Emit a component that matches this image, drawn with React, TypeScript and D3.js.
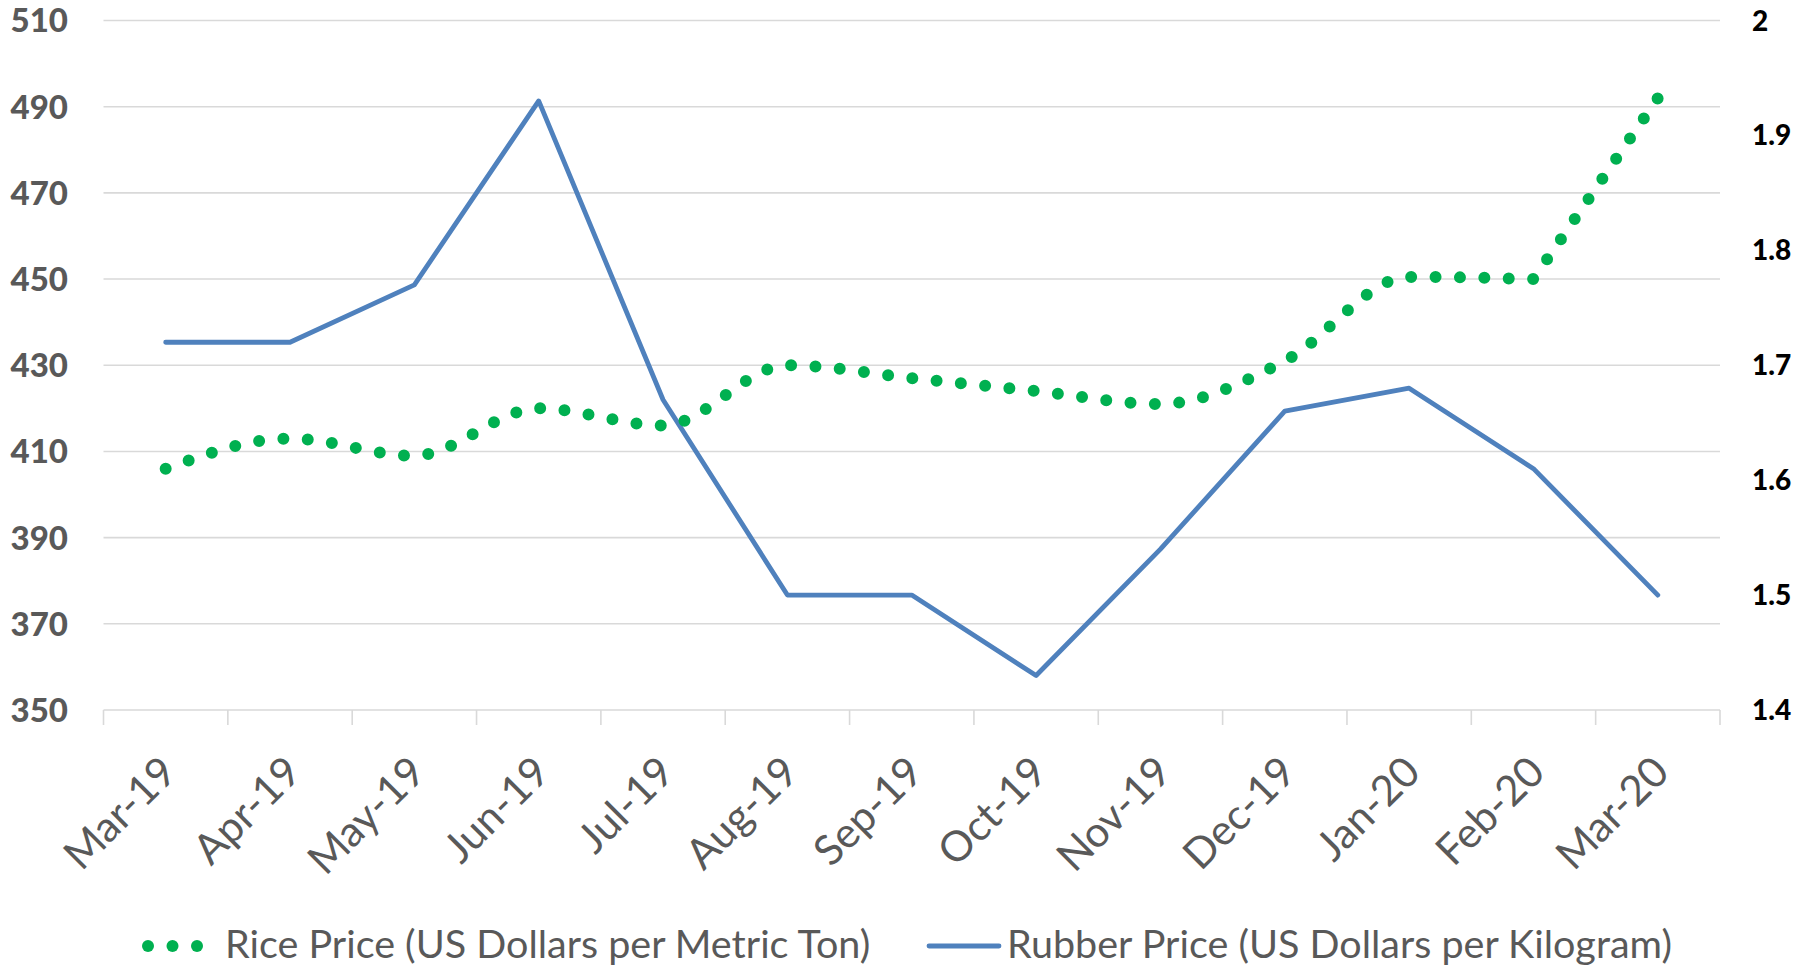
import React, { useRef, useEffect } from "react";
import * as d3 from "d3";

const months = ["Mar-19", "Apr-19", "May-19", "Jun-19", "Jul-19", "Aug-19", "Sep-19", "Oct-19", "Nov-19", "Dec-19", "Jan-20", "Feb-20", "Mar-20"];
const ricePrice = [406, 413, 409, 420, 416, 430, 427, 424, 421, 431, 450.5, 450, 492];
const rubberPrice = [1.72, 1.72, 1.77, 1.93, 1.67, 1.5, 1.5, 1.43, 1.54, 1.66, 1.68, 1.61, 1.5];
const leftTicks = [350, 370, 390, 410, 430, 450, 470, 490, 510];
const rightTicks = [1.4, 1.5, 1.6, 1.7, 1.8, 1.9, 2];
const riceLabel = "Rice Price (US Dollars per Metric Ton)";
const rubberLabel = "Rubber Price (US Dollars per Kilogram)";

const GREEN = "#00b050";
const BLUE = "#4f81bd";
const GREY = "#595959";
const FONT = "Lato, 'Open Sans', sans-serif";

const PriceChart = () => {
  const ref = useRef<SVGSVGElement>(null);

  useEffect(() => {
    const width = 1808;
    const height = 969;
    const margin = { top: 20.5, right: 88, bottom: 259, left: 103.5 };
    const innerW = width - margin.left - margin.right;
    const innerH = height - margin.top - margin.bottom;

    const root = d3.select(ref.current);
    root.selectAll("*").remove();
    const svg = root.append("g").attr("transform", `translate(${margin.left},${margin.top})`);

    const x = d3.scaleBand().domain(months).range([0, innerW]).padding(0);
    const yL = d3.scaleLinear().domain([350, 510]).range([innerH, 0]);
    const yR = d3.scaleLinear().domain([1.4, 2]).range([innerH, 0]);
    const cx = (m: string) => (x(m) ?? 0) + x.bandwidth() / 2;

    // gridlines
    svg
      .selectAll(".grid")
      .data(leftTicks)
      .enter()
      .append("line")
      .attr("x1", 0)
      .attr("x2", innerW)
      .attr("y1", (d) => yL(d))
      .attr("y2", (d) => yL(d))
      .attr("stroke", "#d9d9d9")
      .attr("stroke-width", 1.6);

    // category tick marks
    const edges = months.map((m) => x(m) ?? 0).concat([innerW]);
    svg
      .selectAll(".tick")
      .data(edges)
      .enter()
      .append("line")
      .attr("x1", (d) => d)
      .attr("x2", (d) => d)
      .attr("y1", innerH)
      .attr("y2", innerH + 15)
      .attr("stroke", "#d9d9d9")
      .attr("stroke-width", 1.6);

    // left axis labels
    svg
      .selectAll(".ly")
      .data(leftTicks)
      .enter()
      .append("text")
      .attr("x", 68 - margin.left)
      .attr("y", (d) => yL(d))
      .attr("dy", "0.36em")
      .attr("text-anchor", "end")
      .attr("font-family", FONT)
      .attr("font-weight", 900)
      .attr("font-size", 33)
      .attr("fill", GREY)
      .text((d) => d);

    // right axis labels
    svg
      .selectAll(".ry")
      .data(rightTicks)
      .enter()
      .append("text")
      .attr("x", 1752 - margin.left)
      .attr("y", (d) => yR(d))
      .attr("dy", "0.36em")
      .attr("text-anchor", "start")
      .attr("font-family", FONT)
      .attr("font-weight", 900)
      .attr("font-size", 28)
      .attr("fill", "#000")
      .text((d) => d3.format("~g")(d));

    // x labels
    svg
      .selectAll(".xl")
      .data(months)
      .enter()
      .append("text")
      .attr("transform", (d) => `translate(${cx(d) + 3},${innerH + 54}) rotate(-45)`)
      .attr("dy", "0.35em")
      .attr("text-anchor", "end")
      .attr("font-family", FONT)
      .attr("font-size", 42)
      .attr("fill", GREY)
      .text((d) => d);

    // rubber line
    const rubberLine = d3
      .line<number>()
      .x((d, i) => cx(months[i]))
      .y((d) => yR(d));
    svg
      .append("path")
      .datum(rubberPrice)
      .attr("d", rubberLine)
      .attr("fill", "none")
      .attr("stroke", BLUE)
      .attr("stroke-width", 4.8)
      .attr("stroke-linejoin", "round")
      .attr("stroke-linecap", "round");

    // rice line (smoothed, round dots); the last step runs straight like in the source
    const riceSmooth = d3
      .line<number>()
      .curve(d3.curveMonotoneX)
      .x((d, i) => cx(months[i]))
      .y((d) => yL(d));
    const last = ricePrice.length - 1;
    const riceD =
      riceSmooth(ricePrice.slice(0, last)) +
      `L${cx(months[last])},${yL(ricePrice[last])}`;
    const ricePath = svg
      .append("path")
      .attr("d", riceD)
      .attr("fill", "none")
      .attr("stroke", GREEN)
      .attr("stroke-width", 12)
      .attr("stroke-linecap", "round");
    // spread the dots so one lands on each end
    const len = (ricePath.node() as SVGPathElement).getTotalLength();
    const gap = len / Math.round(len / 24.5) - 0.01;
    ricePath.attr("stroke-dasharray", `0 ${gap}`);

    // legend
    const legend = root.append("g");
    const ly = 946;
    legend
      .selectAll(".ld")
      .data([148, 172.5, 197])
      .enter()
      .append("circle")
      .attr("cx", (d) => d)
      .attr("cy", ly)
      .attr("r", 6)
      .attr("fill", GREEN);
    legend
      .append("text")
      .attr("x", 225)
      .attr("y", 958)
      .attr("font-family", FONT)
      .attr("font-size", 39.5)
      .attr("fill", GREY)
      .text(riceLabel);
    legend
      .append("line")
      .attr("x1", 929)
      .attr("x2", 999)
      .attr("y1", ly)
      .attr("y2", ly)
      .attr("stroke", BLUE)
      .attr("stroke-width", 4.8)
      .attr("stroke-linecap", "round");
    legend
      .append("text")
      .attr("x", 1007)
      .attr("y", 958)
      .attr("font-family", FONT)
      .attr("font-size", 39.5)
      .attr("fill", GREY)
      .text(rubberLabel);
  }, []);

  return (
    <svg
      ref={ref}
      width={1808}
      height={969}
      style={{ position: "absolute", left: 0, top: 0, background: "#fff" }}
    />
  );
};

export default function App() {
  return <PriceChart />;
}
